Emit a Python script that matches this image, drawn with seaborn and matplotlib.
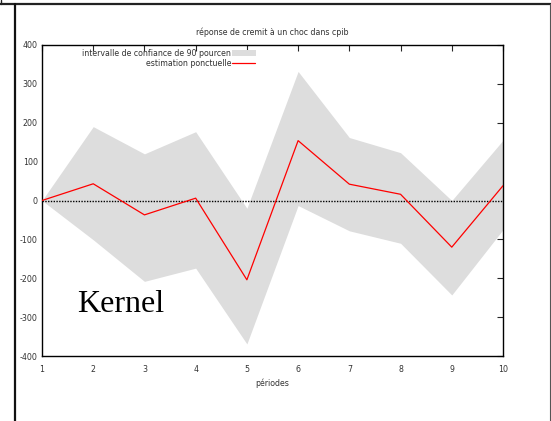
import matplotlib
matplotlib.use("Agg")
import matplotlib.pyplot as plt
from matplotlib.lines import Line2D
from matplotlib.patches import Rectangle
import seaborn as sns
import pandas as pd

periods = [1, 2, 3, 4, 5, 6, 7, 8, 9, 10]
estimate = [0, 43, -37, 6, -204, 154, 42, 16, -120, 38]
upper = [0, 190, 120, 177, -20, 332, 162, 123, 0, 155]
lower = [0, -101, -208, -174, -369, -13, -78, -110, -243, -75]
yticks = [-400, -300, -200, -100, 0, 100, 200, 300, 400]

title = "réponse de cremit à un choc dans cpib"
xlabel = "périodes"
label_ci = "intervalle de confiance de 90 pourcen"
label_est = "estimation ponctuelle"

sns.set_theme(style="white")
plt.rcParams['font.family'] = ['DejaVu Sans']
plt.rcParams['axes.unicode_minus'] = False

df = pd.DataFrame({"periode": periods, "estimation": estimate,
                   "haut": upper, "bas": lower})

fs = 5.7
fig = plt.figure(figsize=(5.51, 4.21), dpi=100)
ax = fig.add_axes([42/551, 1-356/421, (503-42)/551, (356-45)/421])

ax.fill_between(df["periode"], df["bas"], df["haut"], color="#dddddd", lw=0, zorder=1)
ax.axhline(0, color="black", lw=1.0, ls=(0, (1, 1)), zorder=2)
sns.lineplot(data=df, x="periode", y="estimation", color="red", lw=0.9, ax=ax, zorder=3)

ax.set_xlim(1, 10)
ax.set_ylim(-400, 400)
ax.set_xticks(periods)
ax.set_yticks(yticks)
ax.tick_params(direction="in", length=4, width=0.8, labelsize=fs,
               labelcolor="#333333", top=True, right=True,
               labeltop=False, labelright=False)
ax.tick_params(axis="x", pad=6.5)
ax.tick_params(axis="y", pad=3)
for s in ax.spines.values():
    s.set_visible(True)
    s.set_color("black")
    s.set_linewidth(1.0)
ax.set_xlabel(xlabel, fontsize=fs, color="#333333", labelpad=3)
ax.set_ylabel("")
ax.set_title(title, fontsize=fs, color="#333333", pad=7)

# gnuplot-style key
ax.text(189/461, 1-8/311, label_ci, transform=ax.transAxes, ha="right",
        va="center", fontsize=fs, color="#333333", zorder=5)
ax.add_patch(Rectangle((190/461, 1-11/311), 24/461, 6/311, transform=ax.transAxes,
                       color="#dddddd", lw=0, zorder=4, clip_on=False))
ax.text(189/461, 1-18/311, label_est, transform=ax.transAxes, ha="right",
        va="center", fontsize=fs, color="#333333", zorder=5)
ax.add_line(Line2D([190/461, 213/461], [1-18/311, 1-18/311], transform=ax.transAxes,
                   color="red", lw=0.9, zorder=5))

ax.text(35/461, 1-267/311, "Kernel", transform=ax.transAxes, ha="left",
        va="baseline", fontsize=23, family="Liberation Serif", color="black")

# outer frame decorations
fig.add_artist(Line2D([0, 1], [1-4/421, 1-4/421], transform=fig.transFigure,
                      color="#222222", lw=1.6))
fig.add_artist(Line2D([15/551, 15/551], [0, 1-4/421], transform=fig.transFigure,
                      color="#111111", lw=1.6))
fig.add_artist(Line2D([549.5/551, 549.5/551], [0, 1-4/421], transform=fig.transFigure,
                      color="#555555", lw=0.8))
fig.add_artist(Line2D([0.5/551, 0.5/551], [1-4/421, 1], transform=fig.transFigure,
                      color="#222222", lw=1.0))

fig.savefig("out.png", dpi=100)
